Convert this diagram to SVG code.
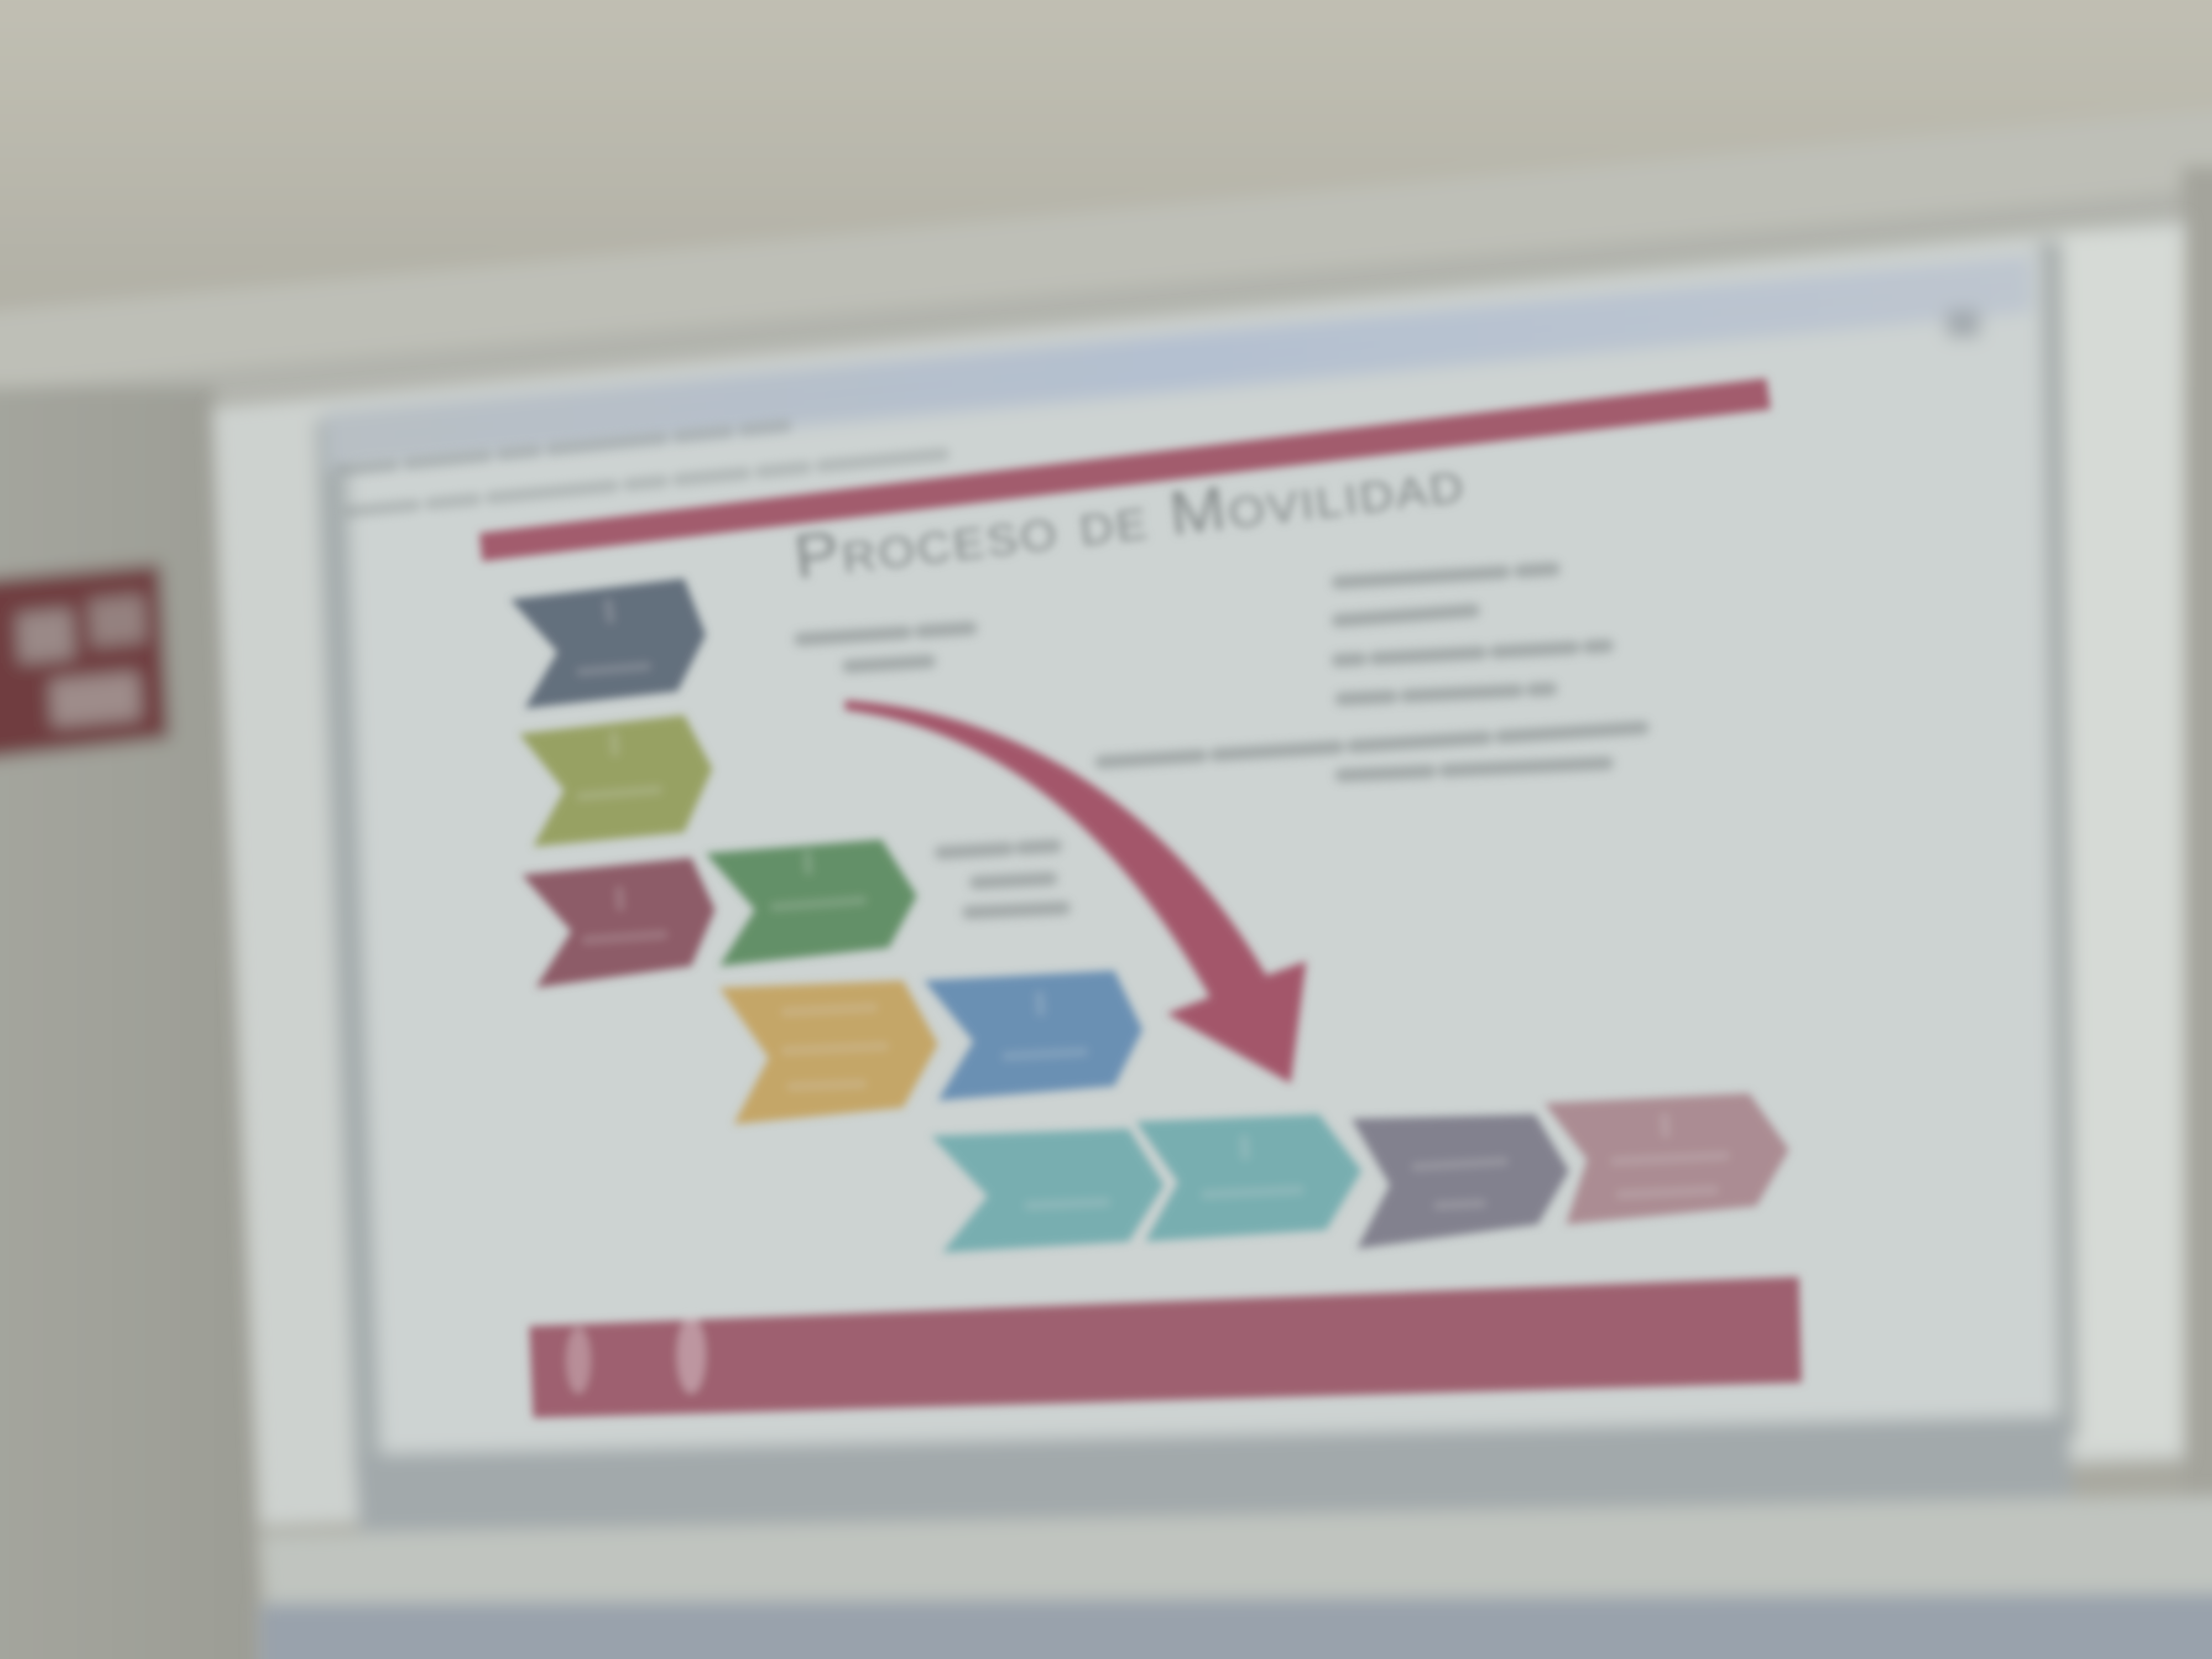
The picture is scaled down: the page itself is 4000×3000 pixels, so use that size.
<svg xmlns="http://www.w3.org/2000/svg" width="4000" height="3000" viewBox="0 0 4000 3000">
  <defs>
    <filter id="haze" x="-10%" y="-10%" width="120%" height="120%">
      <feGaussianBlur stdDeviation="16"/>
    </filter>
    <filter id="soft" x="-5%" y="-5%" width="110%" height="110%">
      <feGaussianBlur stdDeviation="8"/>
    </filter>
    <filter id="smear" x="-20%" y="-50%" width="140%" height="200%">
      <feGaussianBlur stdDeviation="9"/>
    </filter>
    <linearGradient id="ceiling" x1="0" y1="0" x2="0" y2="1">
      <stop offset="0" stop-color="#c6c4b7"/>
      <stop offset="1" stop-color="#aeada3"/>
    </linearGradient>
    <linearGradient id="leftWall" x1="0" y1="0" x2="1" y2="0">
      <stop offset="0" stop-color="#a7a8a0"/>
      <stop offset="1" stop-color="#9c9d95"/>
    </linearGradient>
    <linearGradient id="titleBar" x1="0" y1="0" x2="1" y2="0">
      <stop offset="0" stop-color="#b8bfc4"/>
      <stop offset="0.5" stop-color="#b4c0d0"/>
      <stop offset="1" stop-color="#bec6cf"/>
    </linearGradient>
  </defs>
  <style>
    .chev { stroke: none; }
    .slate { fill: #646f7d; }
    .olive { fill: #97a163; }
    .maroon { fill: #8d5c67; }
    .green { fill: #639067; }
    .amber { fill: #c4a668; }
    .blue { fill: #6a90b3; }
    .teal { fill: #78aeb0; }
    .slateviolet { fill: #82818e; }
    .rose { fill: #ab8c93; }
    .smudge { stroke: #959c9c; stroke-width: 24; stroke-linecap: round; fill: none; }
    .inner { stroke: #dfe3e3; stroke-width: 16; stroke-linecap: round; fill: none; opacity: 0.2; }
    .title { font-family: "Liberation Sans", Arial, sans-serif; font-variant: small-caps; fill: #858b8b; letter-spacing: 4px; }
  </style>

  <rect x="0" y="0" width="4000" height="3000" fill="#a9a9a0"/>

  <!-- room: ceiling, walls and screen housing -->
  <g id="room" filter="url(#haze)">
    <rect x="-200" y="-200" width="4400" height="3400" fill="#a9a9a0"/>
    <rect x="-200" y="-200" width="4400" height="900" fill="url(#ceiling)"/>
    <polygon points="-200,580 4200,180 4200,320 -200,720" fill="#bebfb7"/>
    <polygon points="-200,720 4200,320 4200,420 -200,780" fill="#b2b4ad"/>
    <polygon points="-200,700 390,700 480,3200 -200,3200" fill="url(#leftWall)"/>
    <rect x="3945" y="300" width="300" height="2900" fill="#a4a49c"/>
    <!-- sign on the left wall -->
    <polygon points="-50,1050 290,1020 306,1335 -50,1375" fill="#703c3f"/>
    <polygon points="30,1110 130,1100 135,1190 35,1200" fill="#9a8987"/>
    <polygon points="160,1085 260,1075 265,1160 165,1170" fill="#94817f"/>
    <polygon points="90,1230 250,1215 255,1300 95,1315" fill="#9e8c8a"/>
  </g>

  <!-- screen surface and projected window -->
  <g id="screen" filter="url(#haze)">
    <polygon points="385,735 3720,420 3950,400 3950,2640 470,2760" fill="#cdd2cf"/>
    <rect x="3725" y="420" width="220" height="2200" fill="#d6dad6"/>
    <polygon points="3680,440 3730,436 3760,2600 3712,2604" fill="#a9afae"/>
    <polygon points="570,760 3690,450 3722,2590 640,2660" fill="#cdd3d2"/>
    <polygon points="570,760 625,755 690,2655 640,2660" fill="#a6adae"/>
    <polygon points="587,745 3673,462 3675,565 590,850" fill="url(#titleBar)"/>
    <polygon points="640,2630 3740,2560 3750,2720 650,2775" fill="#a2a9ab"/>
    <polygon points="470,2775 4200,2700 4200,2885 480,2905" fill="#c0c4bf"/>
    <polygon points="470,2900 4200,2880 4200,3200 470,3200" fill="#99a2ac"/>
    <rect x="3520" y="560" width="60" height="50" fill="#a2a9ae"/>
  </g>

  <!-- window toolbar rows -->
  <g id="toolbar" filter="url(#smear)" opacity="0.45">
    <line class="smudge" x1="620" y1="850" x2="1420" y2="770" stroke-width="18" stroke-dasharray="90 30 140 30 60 30 200 30"/>
    <line class="smudge" x1="630" y1="925" x2="1720" y2="820" stroke-width="18" stroke-dasharray="120 30 80 30 220 30 60 30"/>
  </g>

  <!-- slide content -->
  <g id="slide" filter="url(#soft)">
    <polygon id="top-band" points="867,964 3194,684 3202,740 872,1015" fill="#a25c6d"/>
    <polygon id="bottom-band" points="957,2398 3253,2309 3258,2500 964,2564" fill="#9e6170"/>
    <ellipse cx="1046" cy="2460" rx="22" ry="60" fill="#d8c6ca" opacity="0.45"/>
    <ellipse cx="1250" cy="2450" rx="26" ry="70" fill="#dccbcf" opacity="0.5"/>
  </g>

  <g id="title-text" filter="url(#soft)">
    <text class="title" x="1441" y="1046" font-size="112" textLength="1220" lengthAdjust="spacingAndGlyphs" transform="rotate(-6.6 1441 1046)">Proceso de Movilidad</text>
  </g>

  <!-- process steps -->
  <g id="steps" filter="url(#soft)">
    <g id="step-1"><polygon class="chev slate" points="923,1084 1237,1046 1276,1148 1225,1250 949,1281 1008,1179"/><line class="inner" x1="1100" y1="1090" x2="1104" y2="1120"/><line class="inner" x1="1050" y1="1215" x2="1170" y2="1205"/></g>
    <g id="step-2"><polygon class="chev olive" points="939,1327 1237,1293 1288,1390 1237,1505 964,1531 1020,1429"/><line class="inner" x1="1110" y1="1330" x2="1112" y2="1360"/><line class="inner" x1="1050" y1="1440" x2="1190" y2="1428"/></g>
    <g id="step-3"><polygon class="chev maroon" points="944,1582 1250,1551 1293,1645 1250,1747 969,1786 1033,1684"/><line class="inner" x1="1120" y1="1610" x2="1122" y2="1640"/><line class="inner" x1="1060" y1="1700" x2="1200" y2="1690"/></g>
    <g id="step-4"><polygon class="chev green" points="1276,1543 1594,1518 1658,1620 1607,1714 1301,1747 1365,1645"/><line class="inner" x1="1460" y1="1545" x2="1462" y2="1575"/><line class="inner" x1="1400" y1="1640" x2="1560" y2="1628"/></g>
    <g id="step-5"><polygon class="chev amber" points="1301,1786 1633,1773 1696,1888 1633,2003 1327,2033 1390,1913"/><line class="inner" x1="1420" y1="1830" x2="1580" y2="1822"/><line class="inner" x1="1420" y1="1900" x2="1600" y2="1892"/><line class="inner" x1="1430" y1="1965" x2="1560" y2="1960"/></g>
    <g id="step-6"><polygon class="chev blue" points="1671,1773 2015,1755 2066,1862 2015,1964 1696,1990 1760,1883"/><line class="inner" x1="1880" y1="1800" x2="1882" y2="1830"/><line class="inner" x1="1820" y1="1910" x2="1960" y2="1902"/></g>
    <g id="step-7"><polygon class="chev teal" points="1684,2054 2041,2041 2105,2143 2041,2245 1704,2265 1786,2163"/><line class="inner" x1="1860" y1="2180" x2="2000" y2="2174"/></g>
    <g id="step-8"><polygon class="chev teal" points="2054,2028 2385,2015 2462,2117 2398,2224 2071,2245 2130,2138"/><line class="inner" x1="2250" y1="2060" x2="2252" y2="2090"/><line class="inner" x1="2180" y1="2160" x2="2350" y2="2152"/></g>
    <g id="step-9"><polygon class="chev slateviolet" points="2444,2023 2776,2015 2837,2117 2781,2214 2454,2258 2513,2143"/><line class="inner" x1="2560" y1="2110" x2="2720" y2="2100"/><line class="inner" x1="2600" y1="2180" x2="2680" y2="2176"/></g>
    <g id="step-10"><polygon class="chev rose" points="2793,1995 3163,1977 3235,2079 3176,2181 2832,2214 2870,2097"/><line class="inner" x1="3010" y1="2020" x2="3012" y2="2050"/><line class="inner" x1="2920" y1="2100" x2="3120" y2="2090"/><line class="inner" x1="2930" y1="2160" x2="3100" y2="2152"/></g>
  </g>

  <!-- connectors -->
  <g id="connectors" filter="url(#soft)">
    <path id="curved-arrow" d="M1528,1266 C1850,1288 2120,1470 2290,1764 L2362,1738 L2334,1959 L2110,1833 L2188,1803 C2030,1520 1820,1322 1528,1284 Z" fill="#a3566a"/>
  </g>

  <!-- unreadable annotation lines -->
  <g id="notes" filter="url(#smear)" opacity="0.75">
    <g id="note-left">
      <line class="smudge" x1="1448" y1="1156" x2="1755" y2="1136" stroke-dasharray="190 28 200"/>
      <line class="smudge" x1="1535" y1="1205" x2="1680" y2="1196"/>
    </g>
    <g id="note-middle">
      <line class="smudge" x1="1702" y1="1542" x2="1908" y2="1530" stroke-dasharray="120 26 200"/>
      <line class="smudge" x1="1765" y1="1596" x2="1900" y2="1589"/>
      <line class="smudge" x1="1752" y1="1650" x2="1924" y2="1642"/>
    </g>
    <g id="note-right">
      <line class="smudge" x1="2420" y1="1053" x2="2842" y2="1027" stroke-dasharray="300 30 60"/>
      <line class="smudge" x1="2420" y1="1122" x2="2664" y2="1104"/>
      <line class="smudge" x1="2420" y1="1194" x2="2906" y2="1168" stroke-dasharray="40 28 190 28 140 28 60"/>
      <line class="smudge" x1="2426" y1="1264" x2="2804" y2="1246" stroke-dasharray="90 28 200 28 60"/>
      <line class="smudge" x1="1992" y1="1378" x2="2970" y2="1316" stroke-dasharray="180 28 220 28 240 28 280"/>
      <line class="smudge" x1="2426" y1="1402" x2="2906" y2="1380" stroke-dasharray="160 28 300"/>
    </g>
  </g>
</svg>
